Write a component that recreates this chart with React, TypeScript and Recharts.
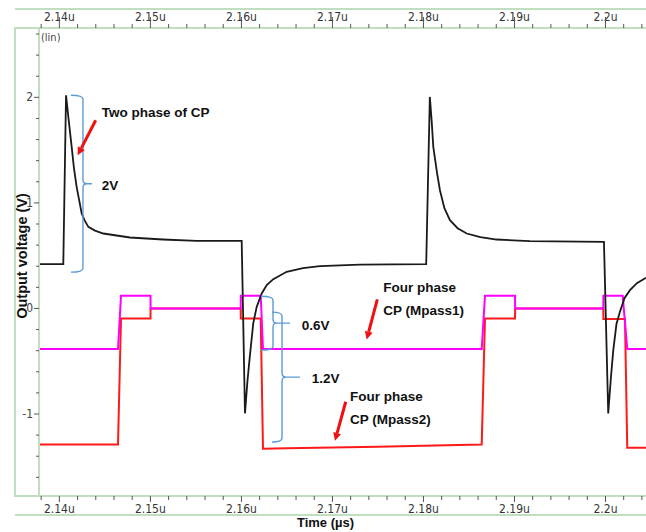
import React from "react";
import { LineChart, Line, XAxis, YAxis, ReferenceLine, ReferenceDot, Label } from "recharts";

// time in µs, voltage in V
const timeDomain = [2.13776, 2.20445];
const voltDomain = [-1.777, 2.657];

const majorTimeTicks = [2.14, 2.15, 2.16, 2.17, 2.18, 2.19, 2.2];
const majorTimeLabels = ["2.14u", "2.15u", "2.16u", "2.17u", "2.18u", "2.19u", "2.2u"];
const majorVoltTicks = [-1, 0, 1, 2];
const majorVoltLabels = ["-1", "0", "1", "2"];

const twoPhaseCP = [
  { t: 2.1377, v: 0.42 },
  { t: 2.14043, v: 0.42 },
  { t: 2.14073, v: 2.02 },
  { t: 2.141, v: 1.8 },
  { t: 2.14135, v: 1.53 },
  { t: 2.1416, v: 1.33 },
  { t: 2.1419, v: 1.15 },
  { t: 2.14245, v: 0.9 },
  { t: 2.14276, v: 0.836 },
  { t: 2.14318, v: 0.773 },
  { t: 2.14391, v: 0.737 },
  { t: 2.14482, v: 0.71 },
  { t: 2.14775, v: 0.672 },
  { t: 2.15138, v: 0.653 },
  { t: 2.15508, v: 0.64 },
  { t: 2.16003, v: 0.64 },
  { t: 2.16039, v: -0.994 },
  { t: 2.16067, v: -0.68 },
  { t: 2.16094, v: -0.44 },
  { t: 2.1613, v: -0.142 },
  { t: 2.16168, v: 0.015 },
  { t: 2.16223, v: 0.142 },
  { t: 2.16278, v: 0.221 },
  { t: 2.1635, v: 0.277 },
  { t: 2.16497, v: 0.347 },
  { t: 2.16676, v: 0.382 },
  { t: 2.16863, v: 0.4 },
  { t: 2.17303, v: 0.415 },
  { t: 2.1803, v: 0.42 },
  { t: 2.1807, v: 2.004 },
  { t: 2.1809, v: 1.78 },
  { t: 2.18108, v: 1.53 },
  { t: 2.1815, v: 1.28 },
  { t: 2.18181, v: 1.12 },
  { t: 2.1823, v: 0.95 },
  { t: 2.18291, v: 0.836 },
  { t: 2.18375, v: 0.76 },
  { t: 2.18475, v: 0.71 },
  { t: 2.18625, v: 0.675 },
  { t: 2.18804, v: 0.653 },
  { t: 2.19169, v: 0.637 },
  { t: 2.19983, v: 0.631 },
  { t: 2.2003, v: -0.994 },
  { t: 2.2006, v: -0.65 },
  { t: 2.20085, v: -0.4 },
  { t: 2.2012, v: -0.15 },
  { t: 2.20159, v: -0.03 },
  { t: 2.2021, v: 0.1 },
  { t: 2.20269, v: 0.173 },
  { t: 2.20345, v: 0.24 },
  { t: 2.20445, v: 0.29 },
];

const fourPhaseMpass1 = [
  { t: 2.1377, v: -0.384 },
  { t: 2.14644, v: -0.384 },
  { t: 2.14677, v: 0.12 },
  { t: 2.15001, v: 0.12 },
  { t: 2.15002, v: 0.0 },
  { t: 2.15992, v: 0.0 },
  { t: 2.15993, v: 0.12 },
  { t: 2.16212, v: 0.12 },
  { t: 2.16237, v: -0.384 },
  { t: 2.1864, v: -0.384 },
  { t: 2.18676, v: 0.12 },
  { t: 2.19006, v: 0.12 },
  { t: 2.19007, v: 0.0 },
  { t: 2.19976, v: 0.0 },
  { t: 2.19977, v: 0.12 },
  { t: 2.20189, v: 0.12 },
  { t: 2.20239, v: -0.384 },
  { t: 2.20445, v: -0.384 },
];

const fourPhaseMpass2 = [
  { t: 2.1377, v: -1.31 },
  { t: 2.13785, v: -1.29 },
  { t: 2.14644, v: -1.29 },
  { t: 2.14677, v: -0.095 },
  { t: 2.15001, v: -0.095 },
  { t: 2.15002, v: 0.0 },
  { t: 2.15992, v: 0.0 },
  { t: 2.15993, v: -0.095 },
  { t: 2.16212, v: -0.095 },
  { t: 2.16237, v: -1.33 },
  { t: 2.165, v: -1.325 },
  { t: 2.17, v: -1.318 },
  { t: 2.175, v: -1.31 },
  { t: 2.18, v: -1.3 },
  { t: 2.1864, v: -1.29 },
  { t: 2.18676, v: -0.095 },
  { t: 2.19006, v: -0.095 },
  { t: 2.19007, v: 0.0 },
  { t: 2.19976, v: 0.0 },
  { t: 2.19977, v: -0.1 },
  { t: 2.20214, v: -0.1 },
  { t: 2.20239, v: -1.32 },
  { t: 2.20445, v: -1.32 },
];

// annotations, in data coordinates
const braces = [
  { name: "2V", t: 2.14259, top: 2.02, bottom: 0.344 },
  { name: "0.6V", t: 2.16347, top: 0.116, bottom: -0.395 },
  { name: "1.2V", t: 2.16446, top: -0.035, bottom: -1.266 },
];
const arrows = [
  { from: [2.14399, 1.783], to: [2.14201, 1.452] },
  { from: [2.17493, 0.085], to: [2.17376, -0.294] },
  { from: [2.17146, -0.884], to: [2.17028, -1.254] },
];
const notes = [
  { t: 2.14465, v: 1.812, lines: ["Two phase of CP"] },
  { t: 2.14465, v: 1.12, lines: ["2V"] },
  { t: 2.16662, v: -0.205, lines: ["0.6V"] },
  { t: 2.16772, v: -0.707, lines: ["1.2V"] },
  { t: 2.17559, v: 0.154, lines: ["Four phase", "CP (Mpass1)"] },
  { t: 2.17193, v: -0.878, lines: ["Four phase", "CP (Mpass2)"] },
];

const braceLook: Record<string, { hook: number; tip: number }> = {
  "2V": { hook: 12, tip: 9 },
  "0.6V": { hook: 12, tip: 17 },
  "1.2V": { hook: 10, tip: 18 },
};

const GREEN = "#bfdfbf";
const TICK_FONT = "'Liberation Sans Narrow', 'DejaVu Sans Condensed', 'Liberation Sans', sans-serif";
const NOTE_FONT = "'Liberation Sans', Arial, sans-serif";

const minorTimeTicks: number[] = [];
for (let i = 0; i <= 33; i++) minorTimeTicks.push(+(2.138 + i * 0.002).toFixed(3));
const minorVoltTicks: number[] = [];
for (let i = 0; i <= 21; i++) minorVoltTicks.push(+(-1.6 + i * 0.2).toFixed(1));

const findMajor = (list: number[], val: number) => list.findIndex((m) => Math.abs(m - val) < 1e-7);

const TopTick = (props: any) => {
  const { x, y, payload } = props;
  const i = findMajor(majorTimeTicks, payload.value);
  return (
    <g>
      {i >= 0 && (
        <text x={x} y={y - 7} textAnchor="middle" fontSize={12} fill="#333" fontFamily={TICK_FONT}>
          {majorTimeLabels[i]}
        </text>
      )}
      <line x1={x} y1={y} x2={x} y2={y - (i >= 0 ? 11 : 4)} stroke="#555" />
    </g>
  );
};

const BottomTick = (props: any) => {
  const { x, y, payload } = props;
  const i = findMajor(majorTimeTicks, payload.value);
  return (
    <g>
      <line x1={x} y1={y} x2={x} y2={y + (i >= 0 ? 6 : 4)} stroke="#555" />
      {i >= 0 && (
        <text x={x} y={y + 17} textAnchor="middle" fontSize={12} fill="#333" fontFamily={TICK_FONT}>
          {majorTimeLabels[i]}
        </text>
      )}
    </g>
  );
};

const LeftTick = (props: any) => {
  const { x, y, payload } = props;
  const i = findMajor(majorVoltTicks, payload.value);
  return (
    <g>
      <line x1={x} y1={y} x2={x - (i >= 0 ? 5 : 3)} y2={y} stroke="#555" />
      {i >= 0 && (
        <text x={x - 6} y={y + 4} textAnchor="end" fontSize={12} fill="#444" fontFamily={TICK_FONT}>
          {majorVoltLabels[i]}
        </text>
      )}
    </g>
  );
};

const braceShape = (name: string) => (p: any) => {
  const { hook, tip } = braceLook[name];
  const x = p.x1;
  const top = Math.min(p.y1, p.y2);
  const bot = Math.max(p.y1, p.y2);
  const mid = (top + bot) / 2;
  const r = 4;
  const d =
    `M ${x - hook} ${top} Q ${x} ${top} ${x} ${top + r} L ${x} ${mid - r} ` +
    `Q ${x} ${mid} ${x + r} ${mid} L ${x + tip} ${mid} M ${x + r} ${mid} ` +
    `Q ${x} ${mid} ${x} ${mid + r} L ${x} ${bot - r} Q ${x} ${bot} ${x - hook} ${bot}`;
  return <path d={d} fill="none" stroke="#5b9bd5" strokeWidth={1.4} />;
};

const arrowShape = (p: any) => {
  const { x1, y1, x2, y2 } = p;
  const dx = x2 - x1;
  const dy = y2 - y1;
  const len = Math.sqrt(dx * dx + dy * dy);
  const ux = dx / len;
  const uy = dy / len;
  const head = 8;
  const w = 4;
  const bx = x2 - ux * head;
  const by = y2 - uy * head;
  return (
    <g>
      <line x1={x1} y1={y1} x2={bx} y2={by} stroke="#ee1111" strokeWidth={3} />
      <polygon
        points={`${x2},${y2} ${bx - uy * w},${by + ux * w} ${bx + uy * w},${by - ux * w}`}
        fill="#ee1111"
      />
    </g>
  );
};

const noteShape = (lines: string[]) => (p: any) => (
  <text x={p.cx} y={p.cy} fontSize={13.5} fontWeight="bold" fill="#111" fontFamily={NOTE_FONT}>
    {lines.map((s, k) => (
      <tspan key={k} x={p.cx} dy={k === 0 ? 0 : 23}>
        {s}
      </tspan>
    ))}
  </text>
);

export default function App() {
  return (
    <div style={{ position: "absolute", left: 0, top: 0, width: 646, height: 532, background: "#fff" }}>
      <div style={{ position: "absolute", left: 15, top: 8, width: 631, height: 2, background: GREEN }} />
      <div style={{ position: "absolute", left: 15, top: 27, width: 24, height: 2, background: GREEN }} />
      <div style={{ position: "absolute", left: 14, top: 27, width: 2, height: 470, background: GREEN }} />
      <div style={{ position: "absolute", left: 15, top: 495, width: 24, height: 2, background: GREEN }} />
      <div style={{ position: "absolute", left: 15, top: 514, width: 631, height: 2, background: GREEN }} />
      <div style={{ position: "absolute", left: 0, top: 0 }}>
        <LineChart width={646} height={532} margin={{ top: 0, right: 0, bottom: 0, left: 0 }}>
          <XAxis
            xAxisId="b"
            type="number"
            dataKey="t"
            domain={timeDomain}
            allowDataOverflow
            ticks={minorTimeTicks}
            interval={0}
            height={36}
            tickLine={false}
            tickSize={0}
            tickMargin={0}
            tick={<BottomTick />}
            axisLine={{ stroke: GREEN, strokeWidth: 2 }}
          >
            <Label
              content={(p: any) => (
                <text
                  x={p.viewBox.x + p.viewBox.width / 2 - 17}
                  y={p.viewBox.y + 31}
                  textAnchor="middle"
                  fontSize={13}
                  fontWeight="bold"
                  fill="#111"
                  fontFamily={NOTE_FONT}
                >
                  Time (µs)
                </text>
              )}
            />
          </XAxis>
          <XAxis
            xAxisId="t"
            orientation="top"
            type="number"
            dataKey="t"
            domain={timeDomain}
            allowDataOverflow
            ticks={minorTimeTicks}
            interval={0}
            height={28}
            tickLine={false}
            tickSize={0}
            tickMargin={0}
            tick={<TopTick />}
            axisLine={{ stroke: GREEN, strokeWidth: 2 }}
          >
            <Label
              content={(p: any) => (
                <text x={p.viewBox.x + 2} y={p.viewBox.y + p.viewBox.height + 13} fontSize={11} fill="#444" fontFamily={TICK_FONT}>
                  (lin)
                </text>
              )}
            />
          </XAxis>
          <YAxis
            yAxisId="l"
            type="number"
            domain={voltDomain}
            allowDataOverflow
            ticks={minorVoltTicks}
            interval={0}
            width={39}
            tickLine={false}
            tickSize={0}
            tickMargin={0}
            tick={<LeftTick />}
            axisLine={{ stroke: GREEN, strokeWidth: 2 }}
          >
            <Label
              content={(p: any) => {
                const cx = 22;
                const cy = p.viewBox.y + p.viewBox.height / 2 - 6;
                return (
                  <text
                    x={cx}
                    y={cy}
                    transform={`rotate(-90 ${cx} ${cy})`}
                    textAnchor="middle"
                    dominantBaseline="central"
                    fontSize={14.5}
                    fontWeight="bold"
                    fill="#111"
                    fontFamily={NOTE_FONT}
                  >
                    Output voltage (V)
                  </text>
                );
              }}
            />
          </YAxis>
          <Line
            data={fourPhaseMpass2}
            dataKey="v"
            xAxisId="b"
            yAxisId="l"
            type="linear"
            stroke="#ff1a1a"
            strokeWidth={2}
            dot={false}
            isAnimationActive={false}
          />
          <Line
            data={fourPhaseMpass1}
            dataKey="v"
            xAxisId="b"
            yAxisId="l"
            type="linear"
            stroke="#ff00ff"
            strokeWidth={2}
            dot={false}
            isAnimationActive={false}
          />
          <Line
            data={twoPhaseCP}
            dataKey="v"
            xAxisId="b"
            yAxisId="l"
            type="linear"
            stroke="#1a1a1a"
            strokeWidth={1.8}
            dot={false}
            isAnimationActive={false}
          />
          {braces.map((b) => (
            <ReferenceLine
              key={b.name}
              xAxisId="b"
              yAxisId="l"
              segment={[
                { x: b.t, y: b.top },
                { x: b.t, y: b.bottom },
              ]}
              shape={braceShape(b.name)}
            />
          ))}
          {arrows.map((a, k) => (
            <ReferenceLine
              key={"a" + k}
              xAxisId="b"
              yAxisId="l"
              segment={[
                { x: a.from[0], y: a.from[1] },
                { x: a.to[0], y: a.to[1] },
              ]}
              shape={arrowShape}
            />
          ))}
          {notes.map((n, k) => (
            <ReferenceDot key={"n" + k} xAxisId="b" yAxisId="l" x={n.t} y={n.v} r={0} shape={noteShape(n.lines)} />
          ))}
        </LineChart>
      </div>
    </div>
  );
}
